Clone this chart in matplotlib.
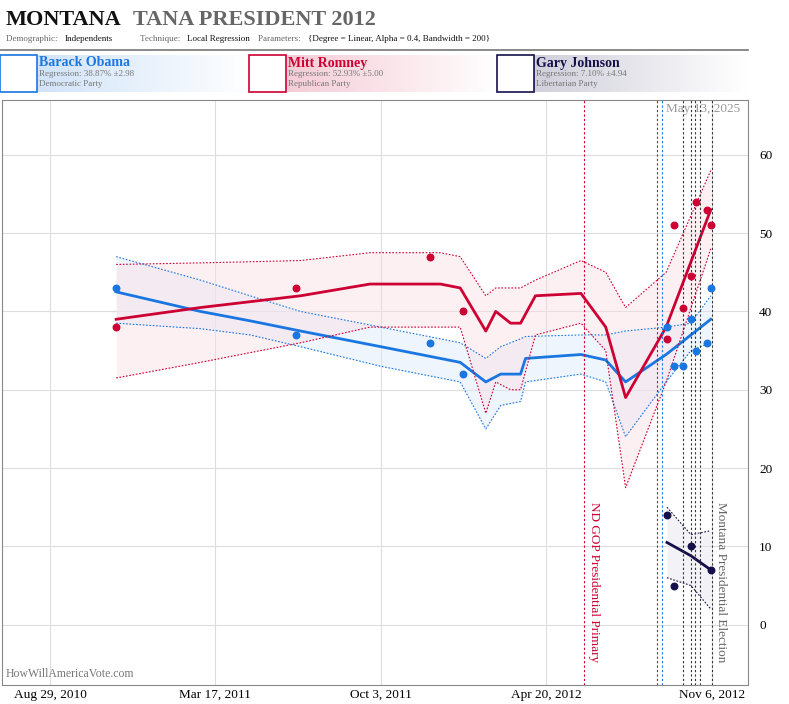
import numpy as np
import matplotlib
matplotlib.use("Agg")
import matplotlib.pyplot as plt
import matplotlib.dates as mdates
from matplotlib.patches import Rectangle
from matplotlib.colors import LinearSegmentedColormap

plt.rcParams["font.family"] = ["Liberation Serif", "DejaVu Serif"]

BLUE = "#1a76e0"
RED = "#cc0033"
NAVY = "#15104a"

# polls
obama_dates = ["2010-11-17", "2011-06-23", "2011-12-02", "2012-01-11", "2012-09-13", "2012-09-21",
               "2012-10-02", "2012-10-12", "2012-10-18", "2012-11-01", "2012-11-05"]
obama_vals = [43, 37, 36, 32, 38, 33, 33, 39, 35, 36, 43]
romney_dates = ["2010-11-17", "2011-06-23", "2011-12-02", "2012-01-11", "2012-09-13", "2012-09-21",
                "2012-10-02", "2012-10-12", "2012-10-18", "2012-11-01", "2012-11-05"]
romney_vals = [38, 43, 47, 40, 36.5, 51, 40.5, 44.5, 54, 53, 51]
johnson_dates = ["2012-09-13", "2012-09-21", "2012-10-12", "2012-11-05"]
johnson_vals = [14, 5, 10, 7]

# regression curves
obama_fit_dates = ["2010-11-17", "2011-02-27", "2011-04-28", "2011-06-28", "2011-10-03", "2012-01-07",
                   "2012-02-07", "2012-02-25", "2012-03-20", "2012-03-26", "2012-06-01", "2012-07-01",
                   "2012-07-25", "2012-09-12", "2012-10-12", "2012-11-05"]
obama_fit = [42.5, 40, 38.8, 37.5, 35.5, 33.5, 31, 32, 32, 34, 34.5, 33.8, 31, 34.5, 37, 39]
obama_hi = [47, 44, 42, 40, 38, 36, 34, 35.5, 36.5, 36.8, 37, 37, 37.5, 38, 38.5, 42]
obama_lo = [38.5, 37.8, 37, 35.5, 33, 31, 25, 28, 28.5, 31, 32, 31, 24, 31, 35, 36]

romney_fit_dates = ["2010-11-17", "2011-02-27", "2011-06-28", "2011-09-20", "2011-12-14", "2012-01-07",
                    "2012-02-07", "2012-02-19", "2012-03-08", "2012-03-20", "2012-04-07", "2012-06-01",
                    "2012-07-01", "2012-07-25", "2012-09-12", "2012-11-05"]
romney_fit = [39, 40.5, 42, 43.5, 43.5, 43, 37.5, 40, 38.5, 38.5, 42, 42.3, 38, 29, 38, 53]
romney_hi = [46, 46.2, 46.5, 47.5, 47.5, 47, 42, 43, 43, 43, 44, 46.5, 45, 40.5, 45, 58]
romney_lo = [31.5, 33.5, 36, 38, 38, 38, 27, 31, 30, 30, 37, 38.5, 35, 17.5, 31, 48]

johnson_fit_dates = ["2012-09-13", "2012-10-12", "2012-11-05"]
johnson_fit = [10.5, 8.8, 7]
johnson_hi = [15, 11.5, 12]
johnson_lo = [6, 5, 2]

event_dates = ["2012-06-05", "2012-09-01", "2012-09-07", "2012-10-03", "2012-10-12",
               "2012-10-17", "2012-10-23", "2012-11-06"]
event_colors = [RED, RED, BLUE, "#333333", "#333333", "#333333", "#333333", "#333333"]

tick_dates = ["2010-08-29", "2011-03-17", "2011-10-03", "2012-04-20", "2012-11-06"]
tick_labels = ["Aug 29, 2010", "Mar 17, 2011", "Oct 3, 2011", "Apr 20, 2012", "Nov 6, 2012"]

D = lambda l: mdates.datestr2num(l)

fig = plt.figure(figsize=(7.89, 7.04), dpi=100)
W, H = 789, 704
ax = fig.add_axes([2 / W, 1 - 685 / H, 746 / W, 585 / H])

for dts, fit, hi, lo, col, fill in [
        (obama_fit_dates, obama_fit, obama_hi, obama_lo, BLUE, "#dcebfb"),
        (romney_fit_dates, romney_fit, romney_hi, romney_lo, RED, "#fbdfe6"),
        (johnson_fit_dates, johnson_fit, johnson_hi, johnson_lo, NAVY, "#e4e4ee")]:
    x = D(dts)
    ax.fill_between(x, lo, hi, color=fill, alpha=0.45, lw=0)
    ax.plot(x, hi, ls=(0, (1.5, 1.5)), color=col, lw=0.8)
    ax.plot(x, lo, ls=(0, (1.5, 1.5)), color=col, lw=0.8)
    ax.plot(x, fit, color=col, lw=2)

ax.scatter(D(obama_dates), obama_vals, s=22, color=BLUE, zorder=5)
ax.scatter(D(romney_dates), romney_vals, s=22, color=RED, zorder=5)
ax.scatter(D(johnson_dates), johnson_vals, s=22, color=NAVY, zorder=5)

for d, c in zip(event_dates, event_colors):
    ax.axvline(D([d])[0], color=c, ls=(0, (2, 2)), lw=0.8)
ax.text(D(["2012-06-05"])[0] + 4, -4.8, "ND GOP Presidential Primary", rotation=-90,
        color=RED, fontsize=9.5, ha="left", va="bottom")
ax.text(D(["2012-11-06"])[0] + 4, -4.8, "Montana Presidential Election", rotation=-90,
        color="#666666", fontsize=9.5, ha="left", va="bottom")

ax.set_xlim(D(["2010-07-02"])[0], D(["2012-12-20"])[0])
ax.set_ylim(-7.7, 67)
ax.set_xticks(D(tick_dates))
ax.set_xticklabels(tick_labels, fontsize=9.5)
ax.set_yticks([0, 10, 20, 30, 40, 50, 60])
ax.yaxis.tick_right()
ax.tick_params(length=0, labelsize=9.5, pad=8)
ax.tick_params(axis="x", pad=3)
ax.grid(True, color="#dddddd", lw=0.8)
ax.set_axisbelow(True)
for s in ax.spines.values():
    s.set_color("#888888")
ax.text(0.99, 0.995, "May 13, 2025", transform=ax.transAxes, ha="right", va="top",
        color="#999999", fontsize=9.5)
ax.text(0.005, 0.008, "HowWillAmericaVote.com", transform=ax.transAxes, ha="left",
        va="bottom", color="#777777", fontsize=8.5)

# header
fig.text(6 / W, 1 - 20 / H, "MONTANA", fontsize=16, fontweight="bold", va="center", color="#111111")
fig.text(133 / W, 1 - 20 / H, "TANA PRESIDENT 2012", fontsize=16, fontweight="bold",
         va="center", color="#666666")
fig.text(6 / W, 1 - 39 / H, "Demographic: ", fontsize=6.5, color="#666666", va="center")
fig.text(65 / W, 1 - 39 / H, "Independents", fontsize=6.5, color="#111111", va="center")
fig.text(140 / W, 1 - 39 / H, "Technique: ", fontsize=6.5, color="#666666", va="center")
fig.text(187 / W, 1 - 39 / H, "Local Regression", fontsize=6.5, color="#111111", va="center")
fig.text(258 / W, 1 - 39 / H, "Parameters: ", fontsize=6.5, color="#666666", va="center")
fig.text(308 / W, 1 - 39 / H, "{Degree = Linear, Alpha = 0.4, Bandwidth = 200}", fontsize=6.5,
         color="#111111", va="center")
fig.add_artist(plt.Line2D([0, 748 / W], [1 - 50 / H, 1 - 50 / H], color="#777777", lw=1.2))

cands = [("Barack Obama", "Regression: 38.87% \u00b12.98", "Democratic Party", BLUE, 0),
         ("Mitt Romney", "Regression: 52.93% \u00b15.00", "Republican Party", RED, 249),
         ("Gary Johnson", "Regression: 7.10% \u00b14.94", "Libertarian Party", NAVY, 497)]
grad = np.linspace(0, 1, 256)[None, :]
for name, reg, party, col, x0 in cands:
    gax = fig.add_axes([(x0 + 37) / W, 1 - 92 / H, 213 / W, 37 / H])
    cm = LinearSegmentedColormap.from_list("g", [col, "white"])
    gax.imshow(grad, aspect="auto", cmap=cm, alpha=0.2, vmin=0, vmax=1, extent=[0, 1, 0, 1])
    gax.axis("off")
    fig.patches.append(Rectangle((x0 / W, 1 - 92 / H), 37 / W, 37 / H, transform=fig.transFigure,
                                 fill=False, ec=col, lw=1.2))
    fig.text((x0 + 39) / W, 1 - 63 / H, name, fontsize=10, fontweight="bold", color=col, va="center")
    fig.text((x0 + 39) / W, 1 - 74 / H, reg, fontsize=6.5, color="#777777", va="center")
    fig.text((x0 + 39) / W, 1 - 84 / H, party, fontsize=6.5, color="#777777", va="center")

fig.savefig("out.png", dpi=100)
